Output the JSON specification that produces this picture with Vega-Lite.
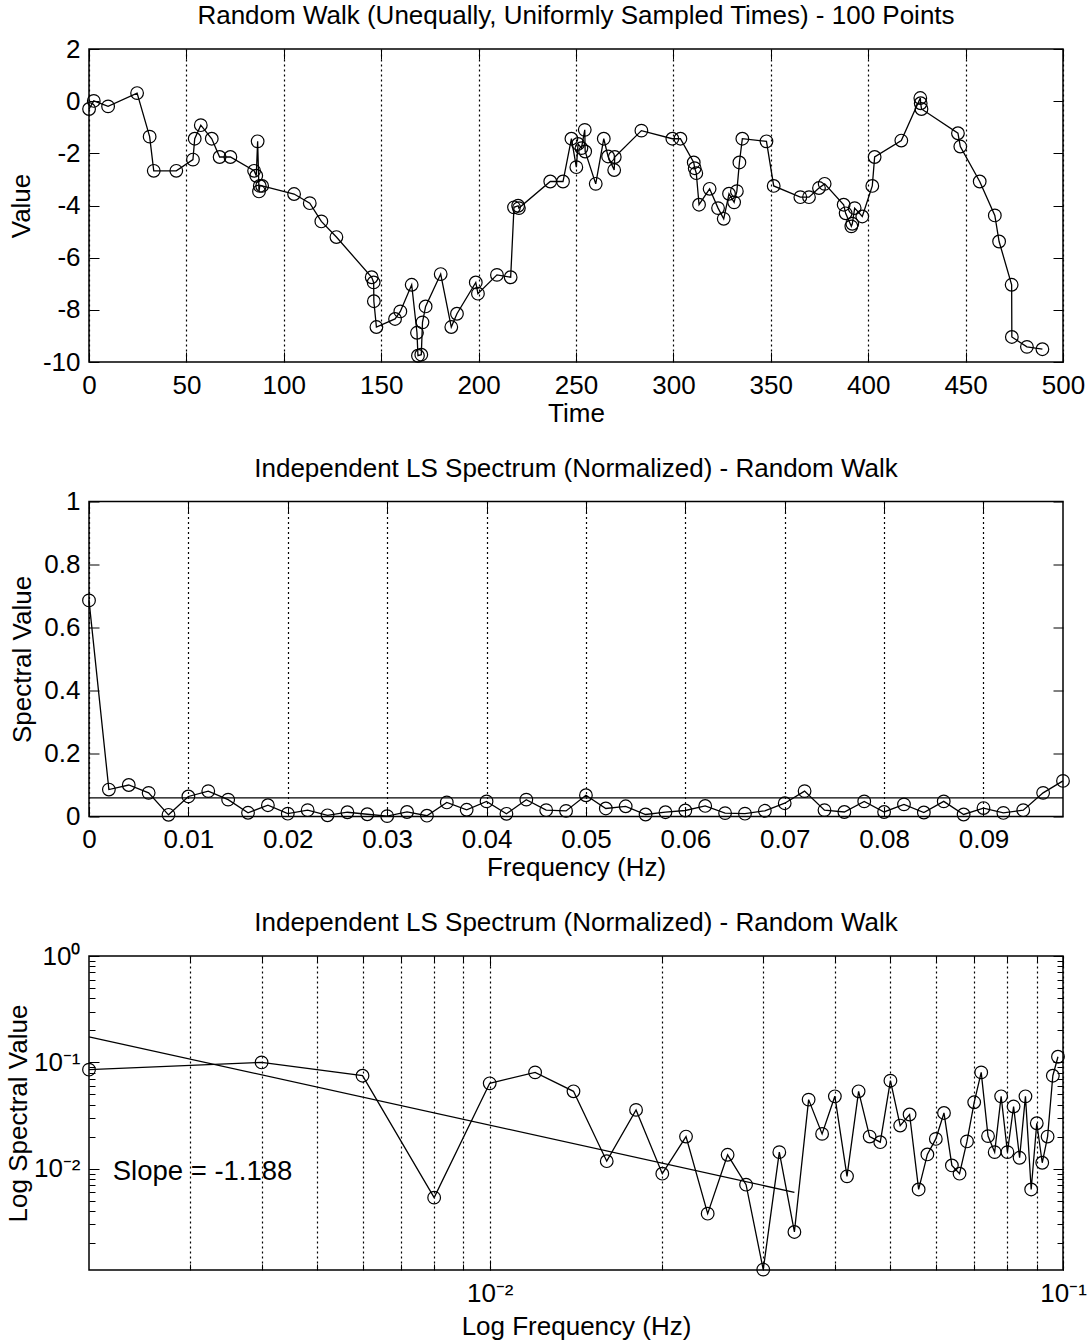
{
  "$schema": "https://vega.github.io/schema/vega-lite/v6.json",
  "background": "white",
  "padding": {"left": 4, "top": 2, "right": 0, "bottom": 0},
  "config": {
    "font": "Liberation Sans",
    "view": {"stroke": "black", "strokeWidth": 1.5},
    "axis": {
      "domain": false,
      "labelFont": "Liberation Sans",
      "labelFontSize": 26,
      "labelColor": "black",
      "labelFlush": false,
      "labelOverlap": false,
      "labelBound": false,
      "titleFont": "Liberation Sans",
      "titleFontSize": 26,
      "titleFontWeight": "normal",
      "titleColor": "black",
      "tickColor": "black",
      "tickWidth": 1,
      "gridColor": "black",
      "gridOpacity": 1,
      "gridWidth": 1.2,
      "gridDash": [2, 3]
    },
    "title": {
      "font": "Liberation Sans",
      "fontSize": 26,
      "fontWeight": "normal",
      "color": "black",
      "frame": "group",
      "baseline": "alphabetic",
      "offset": 7
    }
  },
  "datasets": {
    "walk": [
      {"t": 0.04, "v": -0.30}, {"t": 2.45, "v": 0.01}, {"t": 9.80, "v": -0.20}, {"t": 24.69, "v": 0.31},
      {"t": 31.13, "v": -1.36}, {"t": 33.24, "v": -2.67}, {"t": 44.81, "v": -2.67}, {"t": 53.36, "v": -2.24},
      {"t": 54.27, "v": -1.44}, {"t": 57.39, "v": -0.92}, {"t": 63.02, "v": -1.44}, {"t": 67.05, "v": -2.14},
      {"t": 72.58, "v": -2.14}, {"t": 84.75, "v": -2.67}, {"t": 85.86, "v": -2.86}, {"t": 86.57, "v": -1.54},
      {"t": 87.27, "v": -3.46}, {"t": 87.67, "v": -3.25}, {"t": 88.88, "v": -3.25}, {"t": 105.28, "v": -3.56},
      {"t": 113.33, "v": -3.91}, {"t": 119.27, "v": -4.61}, {"t": 127.01, "v": -5.21}, {"t": 145.12, "v": -6.75},
      {"t": 146.13, "v": -6.95}, {"t": 146.23, "v": -7.67}, {"t": 147.54, "v": -8.66}, {"t": 157.11, "v": -8.35},
      {"t": 159.82, "v": -8.06}, {"t": 165.65, "v": -7.04}, {"t": 168.37, "v": -8.88}, {"t": 168.87, "v": -9.76},
      {"t": 170.58, "v": -9.72}, {"t": 171.19, "v": -8.48}, {"t": 172.80, "v": -7.87}, {"t": 180.54, "v": -6.63},
      {"t": 185.98, "v": -8.66}, {"t": 188.89, "v": -8.15}, {"t": 198.55, "v": -6.95}, {"t": 199.66, "v": -7.38},
      {"t": 209.42, "v": -6.66}, {"t": 216.46, "v": -6.75}, {"t": 218.17, "v": -4.07}, {"t": 220.29, "v": -4.01},
      {"t": 220.69, "v": -4.10}, {"t": 236.79, "v": -3.08}, {"t": 243.33, "v": -3.08}, {"t": 247.65, "v": -1.44},
      {"t": 250.17, "v": -2.53}, {"t": 251.07, "v": -1.64}, {"t": 252.79, "v": -1.80}, {"t": 254.50, "v": -1.10},
      {"t": 254.70, "v": -1.93}, {"t": 260.13, "v": -3.17}, {"t": 264.26, "v": -1.44}, {"t": 266.47, "v": -2.12},
      {"t": 269.60, "v": -2.64}, {"t": 269.90, "v": -2.14}, {"t": 283.57, "v": -1.13}, {"t": 299.46, "v": -1.44},
      {"t": 303.60, "v": -1.44}, {"t": 310.44, "v": -2.35}, {"t": 310.94, "v": -2.57}, {"t": 311.75, "v": -2.76},
      {"t": 313.16, "v": -3.97}, {"t": 318.59, "v": -3.36}, {"t": 322.92, "v": -4.10}, {"t": 325.83, "v": -4.51},
      {"t": 328.55, "v": -3.55}, {"t": 331.17, "v": -3.88}, {"t": 332.58, "v": -3.45}, {"t": 333.88, "v": -2.35},
      {"t": 335.39, "v": -1.44}, {"t": 347.77, "v": -1.54}, {"t": 351.49, "v": -3.25}, {"t": 365.17, "v": -3.68},
      {"t": 369.60, "v": -3.68}, {"t": 374.73, "v": -3.33}, {"t": 377.65, "v": -3.17}, {"t": 387.41, "v": -3.97},
      {"t": 388.42, "v": -4.30}, {"t": 391.34, "v": -4.80}, {"t": 391.84, "v": -4.70}, {"t": 393.05, "v": -4.10},
      {"t": 396.97, "v": -4.42}, {"t": 402.10, "v": -3.25}, {"t": 403.31, "v": -2.14}, {"t": 417.00, "v": -1.51},
      {"t": 426.75, "v": 0.12}, {"t": 426.95, "v": -0.08}, {"t": 427.35, "v": -0.30}, {"t": 446.07, "v": -1.23},
      {"t": 447.28, "v": -1.74}, {"t": 457.24, "v": -3.08}, {"t": 465.00, "v": -4.38}, {"t": 467.20, "v": -5.38},
      {"t": 473.64, "v": -7.04}, {"t": 473.74, "v": -9.04}, {"t": 481.48, "v": -9.42}, {"t": 489.43, "v": -9.51}
    ],
    "spectrum": [
      {"f": 0.000, "p": 0.686}, {"f": 0.002, "p": 0.0855}, {"f": 0.004, "p": 0.100}, {"f": 0.006, "p": 0.075},
      {"f": 0.008, "p": 0.00536}, {"f": 0.010, "p": 0.0636}, {"f": 0.012, "p": 0.0806}, {"f": 0.014, "p": 0.0535},
      {"f": 0.016, "p": 0.0118}, {"f": 0.018, "p": 0.0358}, {"f": 0.020, "p": 0.0090}, {"f": 0.022, "p": 0.0201},
      {"f": 0.024, "p": 0.00379}, {"f": 0.026, "p": 0.01355}, {"f": 0.028, "p": 0.0071}, {"f": 0.030, "p": 0.00113},
      {"f": 0.032, "p": 0.01435}, {"f": 0.034, "p": 0.00255}, {"f": 0.036, "p": 0.0447}, {"f": 0.038, "p": 0.0213},
      {"f": 0.040, "p": 0.048}, {"f": 0.042, "p": 0.0085}, {"f": 0.044, "p": 0.0535}, {"f": 0.046, "p": 0.0201},
      {"f": 0.048, "p": 0.0178}, {"f": 0.050, "p": 0.0674}, {"f": 0.052, "p": 0.0255}, {"f": 0.054, "p": 0.0324},
      {"f": 0.056, "p": 0.0064}, {"f": 0.058, "p": 0.01365}, {"f": 0.060, "p": 0.0191}, {"f": 0.062, "p": 0.0335},
      {"f": 0.064, "p": 0.01076}, {"f": 0.066, "p": 0.0090}, {"f": 0.068, "p": 0.0181}, {"f": 0.070, "p": 0.0422},
      {"f": 0.072, "p": 0.0806}, {"f": 0.074, "p": 0.0203}, {"f": 0.076, "p": 0.01435}, {"f": 0.078, "p": 0.048},
      {"f": 0.080, "p": 0.01435}, {"f": 0.082, "p": 0.0385}, {"f": 0.084, "p": 0.0127}, {"f": 0.086, "p": 0.048},
      {"f": 0.088, "p": 0.0064}, {"f": 0.090, "p": 0.0268}, {"f": 0.092, "p": 0.0114}, {"f": 0.094, "p": 0.0201},
      {"f": 0.096, "p": 0.075}, {"f": 0.098, "p": 0.113}
    ],
    "significance": [{"level": 0.059}],
    "fit": [{"f": 0.002, "p": 0.174}, {"f": 0.034, "p": 0.00601}],
    "note": [{"f": 0.0022, "p": 0.00778, "label": "Slope = -1.188"}]
  },
  "spacing": 139.5,
  "bounds": "flush",
  "vconcat": [
    {
      "width": 974,
      "height": 313,
      "title": {"text": "Random Walk (Unequally, Uniformly Sampled Times) - 100 Points"},
      "data": {"name": "walk"},
      "resolve": {"axis": {"x": "independent", "y": "independent"}},
      "layer": [
        {
          "mark": {"type": "line", "color": "black", "strokeWidth": 1.3},
          "encoding": {
            "x": {"field": "t", "type": "quantitative",
              "scale": {"domain": [0, 500], "nice": false, "zero": false},
              "axis": {"orient": "bottom", "values": [0, 50, 100, 150, 200, 250, 300, 350, 400, 450, 500],
                "grid": true, "tickSize": -10, "labelPadding": 20,
                "title": "Time", "titleY": 59, "titleBaseline": "alphabetic"}},
            "y": {"field": "v", "type": "quantitative",
              "scale": {"domain": [-10, 2], "nice": false, "zero": false},
              "axis": {"orient": "left", "values": [-10, -8, -6, -4, -2, 0, 2],
                "grid": false, "tickSize": -10, "labelPadding": 19,
                "labelExpr": "replace(datum.label, '\u2212', '-')",
                "title": "Value", "titlePadding": 8}}
          }
        },
        {
          "mark": {"type": "point", "shape": "circle", "filled": false, "color": "black", "size": 160, "strokeWidth": 1.2, "opacity": 1},
          "encoding": {
            "x": {"field": "t", "type": "quantitative",
              "axis": {"orient": "top", "values": [0, 50, 100, 150, 200, 250, 300, 350, 400, 450, 500],
                "grid": false, "labels": false, "tickSize": -10, "title": null}},
            "y": {"field": "v", "type": "quantitative",
              "axis": {"orient": "right", "values": [-10, -8, -6, -4, -2, 0, 2],
                "grid": false, "labels": false, "tickSize": -10, "title": null}}
          }
        }
      ]
    },
    {
      "width": 974,
      "height": 315,
      "title": {"text": "Independent LS Spectrum (Normalized) - Random Walk"},
      "resolve": {"axis": {"x": "independent", "y": "independent"}},
      "layer": [
        {
          "data": {"name": "spectrum"},
          "mark": {"type": "line", "color": "black", "strokeWidth": 1.3},
          "encoding": {
            "x": {"field": "f", "type": "quantitative",
              "scale": {"domain": [0, 0.098], "nice": false, "zero": false},
              "axis": {"orient": "bottom", "values": [0, 0.01, 0.02, 0.03, 0.04, 0.05, 0.06, 0.07, 0.08, 0.09],
                "format": "~g", "grid": true, "tickSize": -10, "labelPadding": 20,
                "title": "Frequency (Hz)", "titleY": 59, "titleBaseline": "alphabetic"}},
            "y": {"field": "p", "type": "quantitative",
              "scale": {"domain": [0, 1], "nice": false},
              "axis": {"orient": "left", "values": [0, 0.2, 0.4, 0.6, 0.8, 1],
                "format": "~g", "grid": false, "tickSize": -10, "labelPadding": 19,
                "title": "Spectral Value", "titlePadding": 8}}
          }
        },
        {
          "data": {"name": "spectrum"},
          "mark": {"type": "point", "shape": "circle", "filled": false, "color": "black", "size": 160, "strokeWidth": 1.2, "opacity": 1},
          "encoding": {
            "x": {"field": "f", "type": "quantitative",
              "axis": {"orient": "top", "values": [0, 0.01, 0.02, 0.03, 0.04, 0.05, 0.06, 0.07, 0.08, 0.09],
                "grid": false, "labels": false, "tickSize": -10, "title": null}},
            "y": {"field": "p", "type": "quantitative",
              "axis": {"orient": "right", "values": [0, 0.2, 0.4, 0.6, 0.8, 1],
                "grid": false, "labels": false, "tickSize": -10, "title": null}}
          }
        },
        {
          "data": {"name": "significance"},
          "mark": {"type": "rule", "color": "black", "strokeWidth": 1.2},
          "encoding": {
            "y": {"field": "level", "type": "quantitative", "axis": null}
          }
        }
      ]
    },
    {
      "width": 974,
      "height": 314,
      "title": {"text": "Independent LS Spectrum (Normalized) - Random Walk"},
      "resolve": {"axis": {"x": "independent", "y": "independent"}},
      "layer": [
        {
          "data": {"name": "spectrum"},
          "transform": [{"filter": "datum.f > 0"}],
          "mark": {"type": "line", "color": "black", "strokeWidth": 1.3},
          "encoding": {
            "x": {"field": "f", "type": "quantitative",
              "scale": {"type": "log", "domain": [0.002, 0.1], "nice": false},
              "axis": {"orient": "bottom",
                "values": [0.003, 0.004, 0.005, 0.006, 0.007, 0.008, 0.009, 0.01, 0.02, 0.03, 0.04, 0.05, 0.06, 0.07, 0.08, 0.09, 0.1],
                "labelExpr": "datum.value == 0.01 ? '10⁻²' : datum.value == 0.1 ? '10⁻¹' : ''",
                "grid": true, "tickSize": -6, "labelPadding": 16,
                "title": "Log Frequency (Hz)", "titleY": 64, "titleBaseline": "alphabetic"}},
            "y": {"field": "p", "type": "quantitative",
              "scale": {"type": "log", "domain": [0.00112, 1], "nice": false},
              "axis": {"orient": "left",
                "values": [0.002, 0.003, 0.004, 0.005, 0.006, 0.007, 0.008, 0.009, 0.01, 0.02, 0.03, 0.04, 0.05, 0.06, 0.07, 0.08, 0.09, 0.1, 0.2, 0.3, 0.4, 0.5, 0.6, 0.7, 0.8, 0.9, 1],
                "labelExpr": "datum.value == 1 ? '10⁰' : datum.value == 0.1 ? '10⁻¹' : datum.value == 0.01 ? '10⁻²' : ''",
                "grid": false, "tickSize": -6, "labelPadding": 15,
                "title": "Log Spectral Value", "titlePadding": 2}}
          }
        },
        {
          "data": {"name": "spectrum"},
          "transform": [{"filter": "datum.f > 0"}],
          "mark": {"type": "point", "shape": "circle", "filled": false, "color": "black", "size": 160, "strokeWidth": 1.2, "opacity": 1},
          "encoding": {
            "x": {"field": "f", "type": "quantitative",
              "axis": {"orient": "bottom", "values": [0.01, 0.1],
                "grid": false, "labels": false, "tickSize": -10, "title": null}},
            "y": {"field": "p", "type": "quantitative",
              "axis": {"orient": "left", "values": [0.01, 0.1, 1],
                "grid": false, "labels": false, "tickSize": -10, "title": null}}
          }
        },
        {
          "data": {"name": "fit"},
          "mark": {"type": "line", "color": "black", "strokeWidth": 1.3},
          "encoding": {
            "x": {"field": "f", "type": "quantitative",
              "axis": {"orient": "top",
                "values": [0.003, 0.004, 0.005, 0.006, 0.007, 0.008, 0.009, 0.01, 0.02, 0.03, 0.04, 0.05, 0.06, 0.07, 0.08, 0.09, 0.1],
                "grid": false, "labels": false, "tickSize": -6, "title": null}},
            "y": {"field": "p", "type": "quantitative",
              "axis": {"orient": "right",
                "values": [0.002, 0.003, 0.004, 0.005, 0.006, 0.007, 0.008, 0.009, 0.01, 0.02, 0.03, 0.04, 0.05, 0.06, 0.07, 0.08, 0.09, 0.1, 0.2, 0.3, 0.4, 0.5, 0.6, 0.7, 0.8, 0.9, 1],
                "grid": false, "labels": false, "tickSize": -6, "title": null}}
          }
        },
        {
          "data": {"name": "note"},
          "mark": {"type": "text", "align": "left", "baseline": "alphabetic", "fontSize": 27.5, "font": "Liberation Sans", "color": "black"},
          "encoding": {
            "x": {"field": "f", "type": "quantitative",
              "axis": {"orient": "top", "values": [0.01, 0.1],
                "grid": false, "labels": false, "tickSize": -10, "title": null}},
            "y": {"field": "p", "type": "quantitative",
              "axis": {"orient": "right", "values": [0.01, 0.1, 1],
                "grid": false, "labels": false, "tickSize": -10, "title": null}},
            "text": {"field": "label", "type": "nominal"}
          }
        }
      ]
    }
  ]
}
